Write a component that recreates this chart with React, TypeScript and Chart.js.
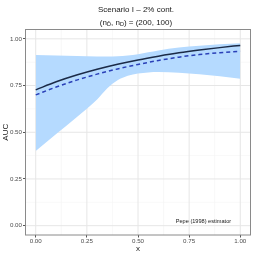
import { useEffect, useRef } from "react";
import { Chart, registerables } from "chart.js";

Chart.register(...registerables);

const xValues = [0, 0.1, 0.2, 0.3, 0.4, 0.5, 0.6, 0.7, 0.8, 0.9, 1.0];
const solidCurve = [0.727, 0.77, 0.806, 0.837, 0.864, 0.887, 0.907, 0.925, 0.94, 0.953, 0.965];
const dashedCurve = [0.7, 0.742, 0.779, 0.811, 0.839, 0.863, 0.884, 0.902, 0.916, 0.926, 0.933];

const bandX = [0, 0.1, 0.2, 0.3, 0.35, 0.4, 0.45, 0.5, 0.55, 0.6, 0.7, 0.8, 0.9, 1.0];
const bandLower = [0.4, 0.49, 0.58, 0.675, 0.735, 0.778, 0.802, 0.814, 0.82, 0.822, 0.818, 0.81, 0.8, 0.787];
const bandUpper = [0.914, 0.911, 0.908, 0.906, 0.906, 0.907, 0.911, 0.917, 0.928, 0.938, 0.953, 0.963, 0.971, 0.977];

const xTickValues = [0, 0.25, 0.5, 0.75, 1];
const xTickLabels = ["0.00", "0.25", "0.50", "0.75", "1.00"];
const yTickValues = [0, 0.25, 0.5, 0.75, 1];
const yTickLabels = ["0.00", "0.25", "0.50", "0.75", "1.00"];

const titleText = "Scenario I \u2013 2% cont.";
const subtitleParts = [
  { t: "(n", sub: false },
  { t: "D\u0304", sub: true },
  { t: ", n", sub: false },
  { t: "D", sub: true },
  { t: ") = (200, 100)", sub: false },
];
const xTitle = "x";
const yTitle = "AUC";
const annotationText = "Pepe (1998) estimator";

const FONT = "'Liberation Sans', Arial, Helvetica, sans-serif";

const pts = (xs: number[], ys: number[]) => xs.map((x, i) => ({ x, y: ys[i] }));

export default function App() {
  const ref = useRef<HTMLCanvasElement | null>(null);

  useEffect(() => {
    if (!ref.current) return;

    const decor = {
      id: "decor",
      beforeDraw(chart: any) {
        const { ctx, chartArea } = chart;
        const { left, right, top, bottom } = chartArea;
        const sx = chart.scales.x;
        const sy = chart.scales.y;
        ctx.save();
        ctx.fillStyle = "#ffffff";
        ctx.fillRect(0, 0, chart.width, chart.height);
        ctx.strokeStyle = "#f3f3f3";
        ctx.lineWidth = 0.6;
        for (let i = 0; i < xTickValues.length - 1; i++) {
          const px = sx.getPixelForValue((xTickValues[i] + xTickValues[i + 1]) / 2);
          ctx.beginPath();
          ctx.moveTo(px, top);
          ctx.lineTo(px, bottom);
          ctx.stroke();
        }
        for (let i = 0; i < yTickValues.length - 1; i++) {
          const py = sy.getPixelForValue((yTickValues[i] + yTickValues[i + 1]) / 2);
          ctx.beginPath();
          ctx.moveTo(left, py);
          ctx.lineTo(right, py);
          ctx.stroke();
        }
        ctx.strokeStyle = "#e6e6e6";
        ctx.lineWidth = 1;
        xTickValues.forEach((v) => {
          const px = sx.getPixelForValue(v);
          ctx.beginPath();
          ctx.moveTo(px, top);
          ctx.lineTo(px, bottom);
          ctx.stroke();
        });
        yTickValues.forEach((v) => {
          const py = sy.getPixelForValue(v);
          ctx.beginPath();
          ctx.moveTo(left, py);
          ctx.lineTo(right, py);
          ctx.stroke();
        });
        ctx.restore();
      },
      afterDatasetsDraw(chart: any) {
        const { ctx, chartArea } = chart;
        const { left, right, top, bottom } = chartArea;
        ctx.save();
        ctx.strokeStyle = "#8a8a8a";
        ctx.lineWidth = 1;
        ctx.strokeRect(left, top, right - left, bottom - top);
        ctx.fillStyle = "#1a1a1a";
        ctx.font = `5.6px ${FONT}`;
        ctx.textAlign = "center";
        ctx.textBaseline = "middle";
        ctx.fillText(annotationText, chart.scales.x.getPixelForValue(0.82), chart.scales.y.getPixelForValue(0.02));
        ctx.restore();
      },
      afterDraw(chart: any) {
        const { ctx, chartArea } = chart;
        const cx = (chartArea.left + chartArea.right) / 2 - 2;
        ctx.save();
        ctx.fillStyle = "#1a1a1a";
        ctx.textBaseline = "alphabetic";
        ctx.textAlign = "center";
        ctx.font = `8px ${FONT}`;
        ctx.fillText(titleText, cx, 11.5);
        const mainFont = `8px ${FONT}`;
        const subFont = `5.6px ${FONT}`;
        let total = 0;
        const widths = subtitleParts.map((p) => {
          ctx.font = p.sub ? subFont : mainFont;
          const w = ctx.measureText(p.t).width;
          total += w;
          return w;
        });
        let x = cx - total / 2;
        ctx.textAlign = "left";
        subtitleParts.forEach((p, i) => {
          ctx.font = p.sub ? subFont : mainFont;
          ctx.fillText(p.t, x, p.sub ? 25.5 : 24.5);
          x += widths[i];
        });
        ctx.textAlign = "center";
        ctx.textBaseline = "middle";
        ctx.font = `8px ${FONT}`;
        ctx.fillText(xTitle, (chartArea.left + chartArea.right) / 2, 248.5);
        ctx.translate(6.2, (chartArea.top + chartArea.bottom) / 2);
        ctx.rotate(-Math.PI / 2);
        ctx.fillText(yTitle, 0, 0);
        ctx.restore();
      },
    };

    const chart = new Chart(ref.current, {
      type: "line",
      data: {
        datasets: [
          {
            label: "solid",
            data: pts(xValues, solidCurve),
            borderColor: "#1b2a47",
            borderWidth: 1.5,
            pointRadius: 0,
            fill: false,
            cubicInterpolationMode: "monotone",
          },
          {
            label: "dashed",
            data: pts(xValues, dashedCurve),
            borderColor: "#2a40b8",
            borderWidth: 1.5,
            borderDash: [4, 3],
            pointRadius: 0,
            fill: false,
            cubicInterpolationMode: "monotone",
          },
          {
            label: "lower",
            data: pts(bandX, bandLower),
            borderWidth: 0,
            borderColor: "rgba(0,0,0,0)",
            pointRadius: 0,
            fill: false,
            cubicInterpolationMode: "monotone",
          },
          {
            label: "upper",
            data: pts(bandX, bandUpper),
            borderWidth: 0,
            borderColor: "rgba(0,0,0,0)",
            backgroundColor: "rgb(181,218,255)",
            pointRadius: 0,
            fill: "-1",
            cubicInterpolationMode: "monotone",
          },
        ],
      } as any,
      options: {
        animation: false,
        responsive: false,
        devicePixelRatio: 1,
        layout: { padding: { top: 29.5, right: 3.5, left: 0, bottom: 0 } },
        plugins: {
          legend: { display: false },
          tooltip: { enabled: false },
          title: { display: false },
          filler: { drawTime: "beforeDatasetsDraw" },
        } as any,
        scales: {
          x: {
            type: "linear",
            min: -0.05,
            max: 1.05,
            afterBuildTicks: (s: any) => {
              s.ticks = xTickValues.map((v) => ({ value: v }));
            },
            afterFit: (s: any) => {
              s.height = 19;
            },
            grid: { display: true, drawOnChartArea: false, drawTicks: true, tickLength: 2.5, color: "#555555" },
            border: { display: false },
            ticks: {
              autoSkip: false,
              maxRotation: 0,
              padding: 0.5,
              color: "#4d4d4d",
              font: { family: FONT, size: 6.2 },
              callback: (_v: any, i: number) => xTickLabels[i],
            },
          },
          y: {
            type: "linear",
            min: -0.05,
            max: 1.05,
            afterBuildTicks: (s: any) => {
              s.ticks = yTickValues.map((v) => ({ value: v }));
            },
            afterFit: (s: any) => {
              s.width = 25.5;
            },
            grid: { display: true, drawOnChartArea: false, drawTicks: true, tickLength: 2.5, color: "#555555" },
            border: { display: false },
            ticks: {
              autoSkip: false,
              padding: 1,
              color: "#4d4d4d",
              font: { family: FONT, size: 6.2 },
              callback: (_v: any, i: number) => yTickLabels[i],
            },
          },
        },
      } as any,
      plugins: [decor as any],
    });

    return () => chart.destroy();
  }, []);

  return (
    <div style={{ position: "absolute", left: 0, top: 0, width: 254, height: 254 }}>
      <canvas ref={ref} width={254} height={254} style={{ width: 254, height: 254 }} />
    </div>
  );
}
